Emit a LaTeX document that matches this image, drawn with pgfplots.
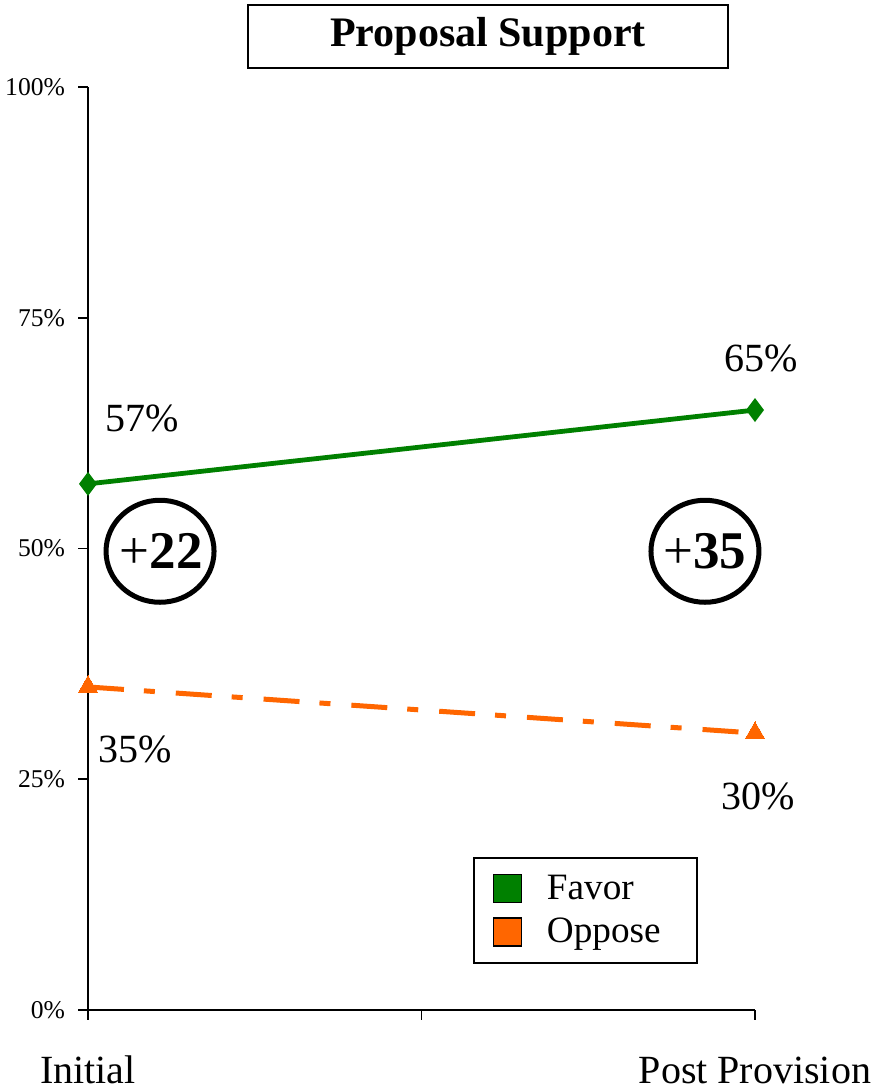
\documentclass[border=0pt]{standalone}
\usepackage{pgfplots}
\pgfplotsset{compat=1.18}
\usepackage{fontspec}
\setmainfont{Liberation Serif}

\definecolor{favor}{RGB}{0,128,0}
\definecolor{oppose}{RGB}{255,102,0}

\begin{document}
\begin{tikzpicture}
\useasboundingbox (0,0) rectangle (440pt,546pt);
\begin{axis}[
	scale only axis,
	width=333.5pt, height=461.5pt,
	at={(44pt,41pt)}, anchor=south west,
	xmin=0, xmax=1, ymin=0, ymax=100,
	axis x line*=bottom, axis y line*=left,
	axis line style={line width=0.8pt},
	tick align=outside, major tick length=5pt,
	tick style={line width=0.8pt, black},
	xtick={0,0.5,1},
	xticklabels={Initial,,Post Provision},
	xticklabel style={anchor=base, yshift=-32pt, font=\fontsize{20}{24}\selectfont},
	ytick={0,25,50,75,100},
	yticklabels={0\%,25\%,50\%,75\%,100\%},
	yticklabel style={anchor=east, xshift=-3pt, font=\fontsize{12.8}{15}\selectfont},
	clip=false,
	legend cell align=left,
	legend style={at={(0.577,0.166)}, anchor=north west, draw=black, line width=1pt,
		font=\fontsize{18.6}{22}\selectfont, inner xsep=9.5pt, inner ysep=6.5pt,
		row sep=4pt},
]

% favor
\addplot[color=favor, line width=2.4pt, mark=diamond*, mark size=4pt,
	mark options={solid, fill=favor},
	legend image code/.code={\draw[draw=black, fill=favor, line width=0.6pt, solid] (0pt,-7pt) rectangle (14pt,7pt); \path (23.5pt,0pt);}]
	coordinates {(0,57) (1,65)};

% oppose
\addplot[color=oppose, line width=2.5pt, dash pattern=on 18pt off 10pt on 5.5pt off 10.5pt,
	mark=triangle*, mark size=5.6pt, mark options={solid, fill=oppose, line width=0pt},
	legend image code/.code={\draw[draw=black, fill=oppose, line width=0.6pt, solid] (0pt,-7pt) rectangle (14pt,7pt); \path (23.5pt,0pt);}]
	coordinates {(0,35) (1,30)};

\legend{Favor, Oppose\kern6.5pt}

\node[font=\fontsize{20}{24}\selectfont] at (axis cs:0.081,64.1) {57\%};
\node[font=\fontsize{20}{24}\selectfont] at (axis cs:1.009,70.6) {65\%};
\node[font=\fontsize{20}{24}\selectfont] at (axis cs:0.0705,28.2) {35\%};
\node[font=\fontsize{20}{24}\selectfont] at (axis cs:1.0045,23.1) {30\%};

\draw[line width=2.5pt] (axis cs:0.108,49.7) ellipse [x radius=27pt, y radius=25.5pt];
\draw[line width=2.5pt] (axis cs:0.925,49.7) ellipse [x radius=27pt, y radius=25.5pt];
\node[font=\fontsize{26.5}{30}\selectfont] at (axis cs:0.110,49.7) {+\textbf{22}};
\node[font=\fontsize{26.5}{30}\selectfont] at (axis cs:0.925,49.7) {+\textbf{35}};
\end{axis}
\node[draw=black, line width=1.2pt, minimum width=240pt, minimum height=31.5pt,
	font=\fontsize{21}{25}\selectfont\bfseries] at (244pt,527.75pt) {Proposal Support};
\end{tikzpicture}
\end{document}
